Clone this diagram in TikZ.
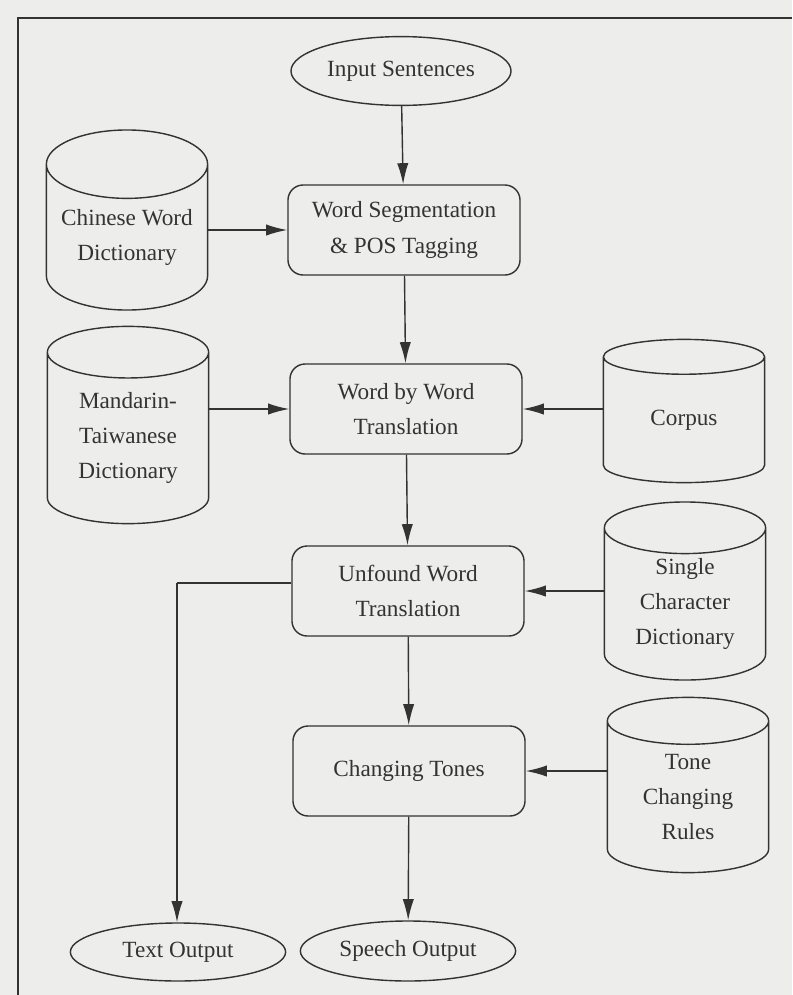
\documentclass[tikz,border=0pt]{standalone}
\usepackage{fontspec}
\setmainfont{Liberation Serif}
\usetikzlibrary{shapes.geometric, arrows.meta}
\definecolor{ink}{HTML}{333333}
\definecolor{paper}{HTML}{EDEDEB}

\tikzset{
    every node/.style={text=ink, font=\fontsize{16.5}{25}\selectfont},
    proc/.style={draw=ink, line width=1pt, rounded corners=0.38cm, minimum width=5.8cm, minimum height=2.25cm, align=center},
    term/.style={draw=ink, line width=1pt, ellipse, inner sep=0pt, align=center},
    store/.style={draw=ink, line width=1pt, cylinder, shape border rotate=90, aspect=0.52, minimum width=4.03cm, inner sep=0pt, align=center, anchor=shape center},
    flow/.style={draw=ink, line width=1pt, -{Latex[length=15pt,width=8pt]}},
    link/.style={draw=ink, line width=1pt}
}

\begin{document}
\begin{tikzpicture}[x=0.025cm, y=-0.025cm]
        \fill[paper] (0,0) rectangle (792,995);
        \useasboundingbox (0,0) rectangle (792,995);
        \draw[ink, line width=1.2pt] (18,995) -- (18,18) -- (792,18);

        % main column
        \node[term, minimum width=5.5cm, minimum height=1.72cm] (input) at (401,71) {Input Sentences};
        \node[proc] (seg) at (404,230) {Word Segmentation\\\& POS Tagging};
        \node[proc] (wbw) at (406,409) {Word by Word\\Translation};
        \node[proc] (unf) at (408,591) {Unfound Word\\Translation};
        \node[proc] (tones) at (409,771) {Changing Tones};
        \node[term, minimum width=5.38cm, minimum height=1.45cm] (textout) at (178,952) {Text Output};
        \node[term, minimum width=5.38cm, minimum height=1.5cm] (speech) at (408,951) {Speech Output};

        % dictionaries and rules
        \node[store, minimum height=4.5cm] (chdict) at (127,220) {Chinese Word\\Dictionary};
        \node[store, minimum height=4.93cm] (mand) at (128,425) {Mandarin-\\Taiwanese\\Dictionary};
        \node[store, minimum height=3.58cm] (corpus) at (684,411) {Corpus};
        \node[store, minimum height=4.45cm] (single) at (685,591) {Single\\Character\\Dictionary};
        \node[store, minimum height=4.38cm] (rules) at (688,785) {Tone\\Changing\\Rules};

        \coordinate (bend) at (177,583);

        \draw[flow] (input) -- (seg);
        \draw[flow] (seg) -- (wbw);
        \draw[flow] (wbw) -- (unf);
        \draw[flow] (unf) -- (tones);
        \draw[flow] (tones) -- (speech);

        \draw[flow] (chdict.east |- seg.west) -- (seg.west);
        \draw[flow] (mand.east |- wbw.west) -- (wbw.west);
        \draw[flow] (corpus.west |- wbw.east) -- (wbw.east);
        \draw[flow] (single.west |- unf.east) -- (unf.east);
        \draw[flow] (rules.west |- tones.east) -- (tones.east);

        \draw[link] (unf.west |- bend) -- (bend);
        \draw[flow] (bend) -- (bend |- textout.north);
\end{tikzpicture}
\end{document}
